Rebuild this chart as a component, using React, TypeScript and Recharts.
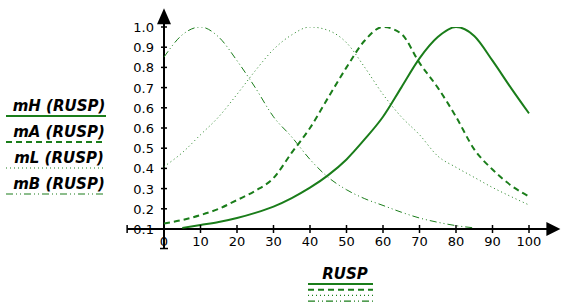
import React from 'react';
import { LineChart, Line, XAxis, YAxis, ReferenceLine } from 'recharts';

const xValues = [0, 5, 10, 15, 20, 25, 30, 35, 40, 45, 50, 55, 60, 65, 70, 75, 80, 85, 90, 95, 100];
const mH = [null, 0.105, 0.118, 0.131, 0.149, 0.172, 0.2, 0.238, 0.284, 0.34, 0.41, 0.5, 0.6, 0.73, 0.86, 0.955, 1.0, 0.96, 0.85, 0.73, 0.615];
const mA = [0.125, 0.14, 0.162, 0.19, 0.229, 0.27, 0.327, 0.44, 0.55, 0.686, 0.82, 0.94, 1.0, 0.97, 0.84, 0.73, 0.6, 0.455, 0.365, 0.295, 0.245];
const mL = [0.378, 0.44, 0.52, 0.6, 0.7, 0.805, 0.9, 0.965, 1.0, 0.985, 0.93, 0.82, 0.7, 0.6, 0.52, 0.425, 0.375, 0.33, 0.285, 0.245, 0.207];
const mB = [0.866, 0.965, 1.0, 0.955, 0.85, 0.73, 0.6, 0.51, 0.41, 0.33, 0.275, 0.235, 0.205, 0.175, 0.149, 0.13, 0.115, 0.105, null, null, null];

const xTicks = [0, 10, 20, 30, 40, 50, 60, 70, 80, 90, 100];
const yTicks = [0.1, 0.19, 0.28, 0.37, 0.46, 0.55, 0.64, 0.73, 0.82, 0.91, 1.0];
const yTickLabels = ['0.1', '0.2', '0.3', '0.4', '0.5', '0.6', '0.6', '0.7', '0.8', '0.9', '1.0'];

// how far the drawn axes run past the data range (in data units)
const xAxisExtent = [-10.1, 108.6];
const yAxisExtent = [0.013, 1.083];

const GREEN = '#1a7d1a';
const FONT = '"DejaVu Sans", Verdana, sans-serif';

const series = [
  { key: 'mH', name: 'mH (RUSP)', width: 2, dash: undefined },
  { key: 'mA', name: 'mA (RUSP)', width: 2, dash: '6 4' },
  { key: 'mL', name: 'mL (RUSP)', width: 1, dash: '1 3' },
  { key: 'mB', name: 'mB (RUSP)', width: 1, dash: '7 3 1 3 1 3' },
];

const data = xValues.map((x, i) => ({ x, mH: mH[i], mA: mA[i], mL: mL[i], mB: mB[i] }));

const XTick = (props: any) => {
  const { x, y, payload } = props;
  return (
    <g>
      <line x1={x} y1={y - 4} x2={x} y2={y + 4} stroke="#000" strokeWidth={1.5} />
      <text x={x} y={y + 17} textAnchor="middle" fontSize={13} fontFamily={FONT} fill="#000">
        {payload.value}
      </text>
    </g>
  );
};

const YTick = (props: any) => {
  const { x, y, payload } = props;
  const idx = yTicks.indexOf(payload.value);
  return (
    <g>
      <line x1={x - 3} y1={y} x2={x + 3} y2={y} stroke="#000" strokeWidth={1.5} />
      <text x={x - 10} y={y + 5} textAnchor="end" fontSize={13} fontFamily={FONT} fill="#000">
        {idx >= 0 ? yTickLabels[idx] : payload.value}
      </text>
    </g>
  );
};

const HorizontalAxis = (p: any) => {
  const { x1, y1, x2, y2 } = p;
  return (
    <g>
      <line x1={x1} y1={y1} x2={x2 - 12} y2={y2} stroke="#000" strokeWidth={2} />
      <line x1={x1} y1={y1 - 4} x2={x1} y2={y1 + 4} stroke="#000" strokeWidth={1.5} />
      <polygon points={`${x2},${y2} ${x2 - 14},${y2 - 7} ${x2 - 14},${y2 + 7}`} fill="#000" />
    </g>
  );
};

const VerticalAxis = (p: any) => {
  const { x1, y1, x2, y2 } = p;
  return (
    <g>
      <line x1={x1} y1={y1} x2={x2} y2={y2 + 12} stroke="#000" strokeWidth={2} />
      <line x1={x1 - 4} y1={y1} x2={x1 + 4} y2={y1} stroke="#000" strokeWidth={1.5} />
      <polygon points={`${x2},${y2} ${x2 - 7},${y2 + 16} ${x2 + 7},${y2 + 16}`} fill="#000" />
    </g>
  );
};

const Legends = () => (
  <svg width={561} height={302} style={{ position: 'absolute', left: 0, top: 0, pointerEvents: 'none' }}>
    {series.map((s, i) => (
      <g key={s.key}>
        <text x={59} y={110.5 + i * 26.2} textAnchor="middle" fontSize={15} fontWeight="bold" fontStyle="italic" fontFamily={FONT} fill="#000">
          {s.name}
        </text>
        <line x1={6} x2={106} y1={116 + i * 26} y2={116 + i * 26} stroke={GREEN} strokeWidth={s.width === 1 ? 1.2 : 2} strokeDasharray={s.dash} />
      </g>
    ))}
    <text x={345} y={279} textAnchor="middle" fontSize={15} fontWeight="bold" fontStyle="italic" fontFamily={FONT} fill="#000">
      RUSP
    </text>
    {series.map((s, i) => (
      <line key={s.key} x1={308} x2={373} y1={284 + i * 5.7} y2={284 + i * 5.7} stroke={GREEN} strokeWidth={s.width === 1 ? 1.2 : 2} strokeDasharray={s.dash} />
    ))}
  </svg>
);

export default function App() {
  return (
    <div style={{ position: 'absolute', left: 0, top: 0, width: 561, height: 302, background: '#fff' }}>
      <LineChart width={561} height={302} data={data} margin={{ top: 27, right: 32, bottom: 72, left: 163 }}>
        <XAxis
          type="number"
          dataKey="x"
          domain={[0, 100]}
          ticks={xTicks}
          height={1}
          axisLine={false}
          tickLine={false}
          tickSize={0}
          tickMargin={0}
          tick={<XTick />}
          interval={0}
        />
        <YAxis
          type="number"
          domain={[0.1, 1.0]}
          ticks={yTicks}
          width={1}
          axisLine={false}
          tickLine={false}
          tickSize={0}
          tickMargin={0}
          tick={<YTick />}
          interval={0}
          allowDataOverflow
        />
        <ReferenceLine
          segment={[{ x: xAxisExtent[0], y: 0.1 }, { x: xAxisExtent[1], y: 0.1 }]}
          ifOverflow="visible"
          shape={HorizontalAxis}
        />
        <ReferenceLine
          segment={[{ x: 0, y: yAxisExtent[0] }, { x: 0, y: yAxisExtent[1] }]}
          ifOverflow="visible"
          shape={VerticalAxis}
        />
        {series.map((s) => (
          <Line
            key={s.key}
            dataKey={s.key}
            name={s.name}
            type="monotone"
            stroke={GREEN}
            strokeWidth={s.width}
            strokeDasharray={s.dash}
            dot={false}
            activeDot={false}
            isAnimationActive={false}
          />
        ))}
      </LineChart>
      <Legends />
    </div>
  );
}
